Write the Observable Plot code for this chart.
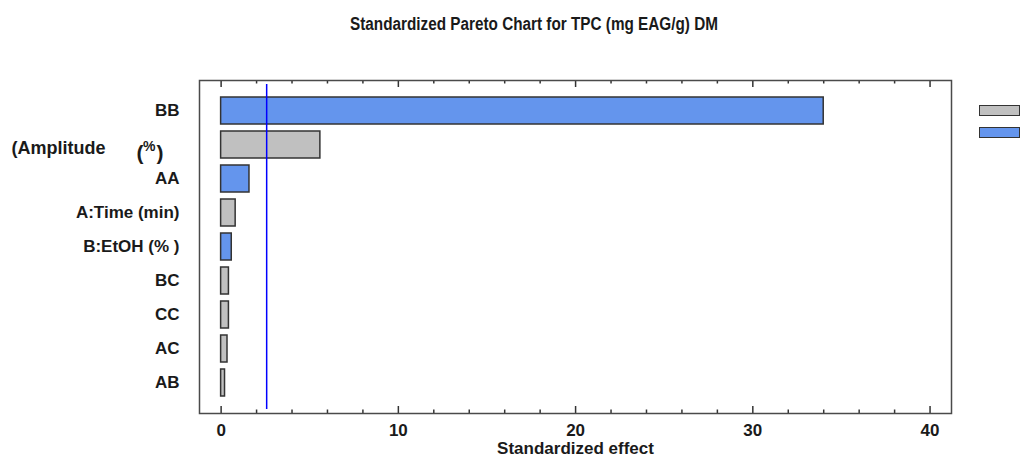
<!DOCTYPE html>
<html>
<head>
<meta charset="utf-8">
<script src="https://cdn.jsdelivr.net/npm/d3@7"></script>
<script src="https://cdn.jsdelivr.net/npm/@observablehq/plot@0.6"></script>
<style>
  body { margin: 0; background: #fff; }
  #chart { position: relative; width: 1036px; height: 459px; overflow: hidden; }
  .swatch { position: absolute; left: 979px; width: 39px; height: 9px; border: 1.5px solid #333; }
</style>
</head>
<body>
<div id="chart"></div>
<script>
// Standardized effects of each model term, listed from largest to smallest
const factors = ["BB", "Amplitude (%)", "AA", "A:Time (min)", "B:EtOH (% )", "BC", "CC", "AC", "AB"];
const effects = [34.0, 5.6, 1.6, 0.82, 0.6, 0.44, 0.44, 0.36, 0.22];
const signs   = ["-", "+", "-", "+", "-", "+", "+", "+", "+"];
const criticalValue = 2.57;
const majorTicks = [0, 10, 20, 30, 40];
const minorTicks = [2, 4, 6, 8, 12, 14, 16, 18, 22, 24, 26, 28, 32, 34, 36, 38];
const legendSigns = ["+", "-"];
const signColors = ["#c0c0c0", "#6495ed"];
const titleText = "Standardized Pareto Chart for TPC (mg EAG/g) DM";
const xLabel = "Standardized effect";
// the "Amplitude (%)" row carries a hand-placed label
const amplitudeRow = "Amplitude (%)";

const rows = factors.map((f, i) => ({factor: f, effect: effects[i], sign: signs[i]}));
const ink = "#1a1a1a";
const font = "'Liberation Sans', Arial, sans-serif";

const marginTop = 80, marginBottom = 46, height = 459;
const frameHeight = height - marginTop - marginBottom;

// short tick marks hugging the inside of the bottom and top edges
const edgeTicks = (values, len) => [
  Plot.tickX(values, {x: d => d, stroke: "#333", strokeWidth: 1.5, insetTop: frameHeight - len}),
  Plot.tickX(values, {x: d => d, stroke: "#333", strokeWidth: 1.5, insetBottom: frameHeight - len})
];

const plot = Plot.plot({
  width: 1036,
  height,
  marginLeft: 199,
  marginRight: 85,
  marginTop,
  marginBottom,
  style: {fontFamily: font, fontSize: "17px", fontWeight: "bold", color: ink, background: "#fff"},
  x: {domain: [-1.22, 41.21], label: null},
  y: {domain: factors, padding: 0.2, insetTop: 6.8, insetBottom: 6, label: null},
  color: {domain: legendSigns, range: signColors},
  marks: [
    Plot.barX(rows, {y: "factor", x1: 0, x2: "effect", fill: "sign", stroke: "#333", strokeWidth: 1.5}),
    Plot.ruleX([criticalValue], {stroke: "#0000ff", strokeWidth: 1.5, insetTop: 4, insetBottom: 4}),
    ...edgeTicks(majorTicks, 7),
    ...edgeTicks(minorTicks, 3.5),
    Plot.frame({stroke: "#4a4a4a", strokeWidth: 1.5}),
    Plot.axisX({anchor: "bottom", ticks: majorTicks, tickSize: 0, tickPadding: 10, fill: ink,
      fontSize: 17, label: null}),
    Plot.axisY({tickSize: 0, tickPadding: 20, fill: ink, fontSize: 17, label: null,
      tickFormat: d => d === amplitudeRow ? "" : d}),
    // x axis title
    Plot.text([xLabel], {frameAnchor: "bottom", dy: 40, fill: ink, fontSize: 17, fontWeight: "bold"}),
    // hand-placed label of the amplitude row
    Plot.text([amplitudeRow], {y: d => d, frameAnchor: "left", text: () => "(Amplitude", dx: -188, dy: 3,
      textAnchor: "start", fill: ink, fontSize: 18, fontWeight: "bold"}),
    Plot.text([amplitudeRow], {y: d => d, frameAnchor: "left", text: () => "(", dx: -63, dy: 8,
      textAnchor: "start", fill: ink, fontSize: 21, fontWeight: "bold"}),
    Plot.text([amplitudeRow], {y: d => d, frameAnchor: "left", text: () => "%", dx: -56.5, dy: 2,
      textAnchor: "start", fill: ink, fontSize: 14, fontWeight: "bold"}),
    Plot.text([amplitudeRow], {y: d => d, frameAnchor: "left", text: () => ")", dx: -43, dy: 8,
      textAnchor: "start", fill: ink, fontSize: 21, fontWeight: "bold"})
  ]
});

// condensed chart title
d3.select(plot).append("text")
  .attr("x", 534).attr("y", 30)
  .attr("text-anchor", "middle")
  .attr("textLength", 368).attr("lengthAdjust", "spacingAndGlyphs")
  .attr("fill", ink).attr("font-size", 17.5).attr("font-weight", "bold")
  .text(titleText);

const chart = document.getElementById("chart");
chart.appendChild(plot);

// legend swatches for the sign of each effect
legendSigns.forEach((s, i) => {
  const sw = document.createElement("div");
  sw.className = "swatch";
  sw.style.top = (105 + i * 22) + "px";
  sw.style.background = signColors[i];
  sw.title = s;
  chart.appendChild(sw);
});
</script>
</body>
</html>
